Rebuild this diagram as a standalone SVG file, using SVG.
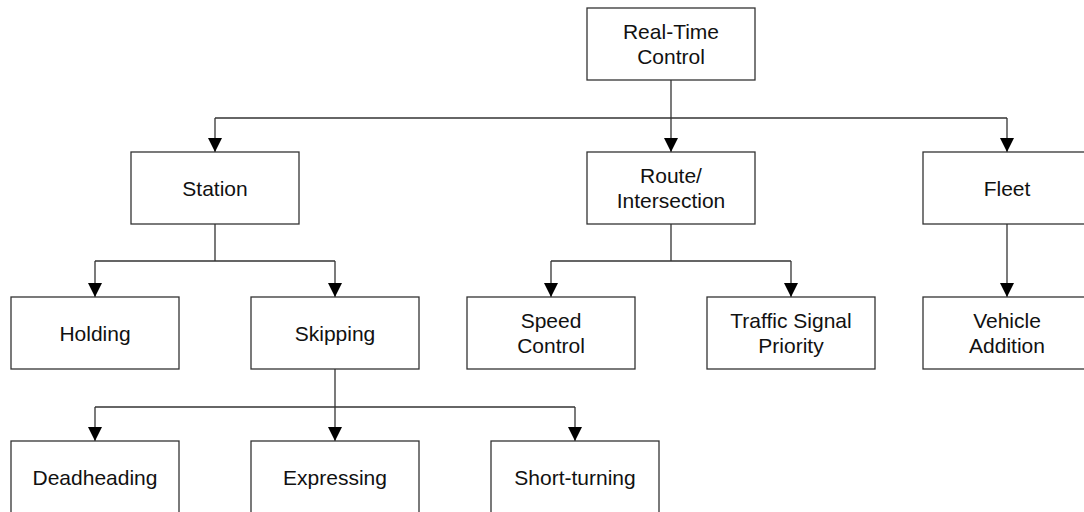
<svg xmlns="http://www.w3.org/2000/svg" width="1084" height="512" viewBox="0 0 1084 512">
<defs>
<style>
.box{fill:#fff;stroke:#333;stroke-width:1.3}
.t{font-family:"Liberation Sans",Arial,sans-serif;font-size:21px;fill:#111;text-anchor:middle}
.c{fill:none;stroke:#333;stroke-width:1.3}
</style>
<marker id="ah" markerWidth="14" markerHeight="14" refX="14" refY="7" orient="auto" markerUnits="userSpaceOnUse">
<path d="M0,0 L14,7 L0,14 Z" fill="#000"/>
</marker>
</defs>
<rect width="1084" height="512" fill="#fff"/>
<g id="connectors">
<path class="c" d="M671,80 V152" marker-end="url(#ah)"/>
<path class="c" d="M215,118 H1007"/>
<path class="c" d="M215,118 V152" marker-end="url(#ah)"/>
<path class="c" d="M1007,118 V152" marker-end="url(#ah)"/>
<path class="c" d="M215,224 V261 M95,261 H335"/>
<path class="c" d="M95,261 V297" marker-end="url(#ah)"/>
<path class="c" d="M335,261 V297" marker-end="url(#ah)"/>
<path class="c" d="M671,224 V261 M551,261 H791"/>
<path class="c" d="M551,261 V297" marker-end="url(#ah)"/>
<path class="c" d="M791,261 V297" marker-end="url(#ah)"/>
<path class="c" d="M1007,224 V297" marker-end="url(#ah)"/>
<path class="c" d="M335,369 V441" marker-end="url(#ah)"/>
<path class="c" d="M95,407 H575"/>
<path class="c" d="M95,407 V441" marker-end="url(#ah)"/>
<path class="c" d="M575,407 V441" marker-end="url(#ah)"/>
</g>
<g id="realtime"><rect class="box" x="587" y="8" width="168" height="72"/><text class="t" x="671" y="38.5">Real-Time</text><text class="t" x="671" y="63.5">Control</text></g>
<g id="station"><rect class="box" x="131" y="152" width="168" height="72"/><text class="t" x="215" y="195.5">Station</text></g>
<g id="route"><rect class="box" x="587" y="152" width="168" height="72"/><text class="t" x="671" y="182.5">Route/</text><text class="t" x="671" y="207.5">Intersection</text></g>
<g id="fleet"><rect class="box" x="923" y="152" width="168" height="72"/><text class="t" x="1007" y="195.5">Fleet</text></g>
<g id="holding"><rect class="box" x="11" y="297" width="168" height="72"/><text class="t" x="95" y="340.5">Holding</text></g>
<g id="skipping"><rect class="box" x="251" y="297" width="168" height="72"/><text class="t" x="335" y="340.5">Skipping</text></g>
<g id="speed"><rect class="box" x="467" y="297" width="168" height="72"/><text class="t" x="551" y="327.5">Speed</text><text class="t" x="551" y="352.5">Control</text></g>
<g id="tsp"><rect class="box" x="707" y="297" width="168" height="72"/><text class="t" x="791" y="327.5">Traffic Signal</text><text class="t" x="791" y="352.5">Priority</text></g>
<g id="vehicle"><rect class="box" x="923" y="297" width="168" height="72"/><text class="t" x="1007" y="327.5">Vehicle</text><text class="t" x="1007" y="352.5">Addition</text></g>
<g id="deadheading"><rect class="box" x="11" y="441" width="168" height="72"/><text class="t" x="95" y="484.5">Deadheading</text></g>
<g id="expressing"><rect class="box" x="251" y="441" width="168" height="72"/><text class="t" x="335" y="484.5">Expressing</text></g>
<g id="shortturning"><rect class="box" x="491" y="441" width="168" height="72"/><text class="t" x="575" y="484.5">Short-turning</text></g>
</svg>
